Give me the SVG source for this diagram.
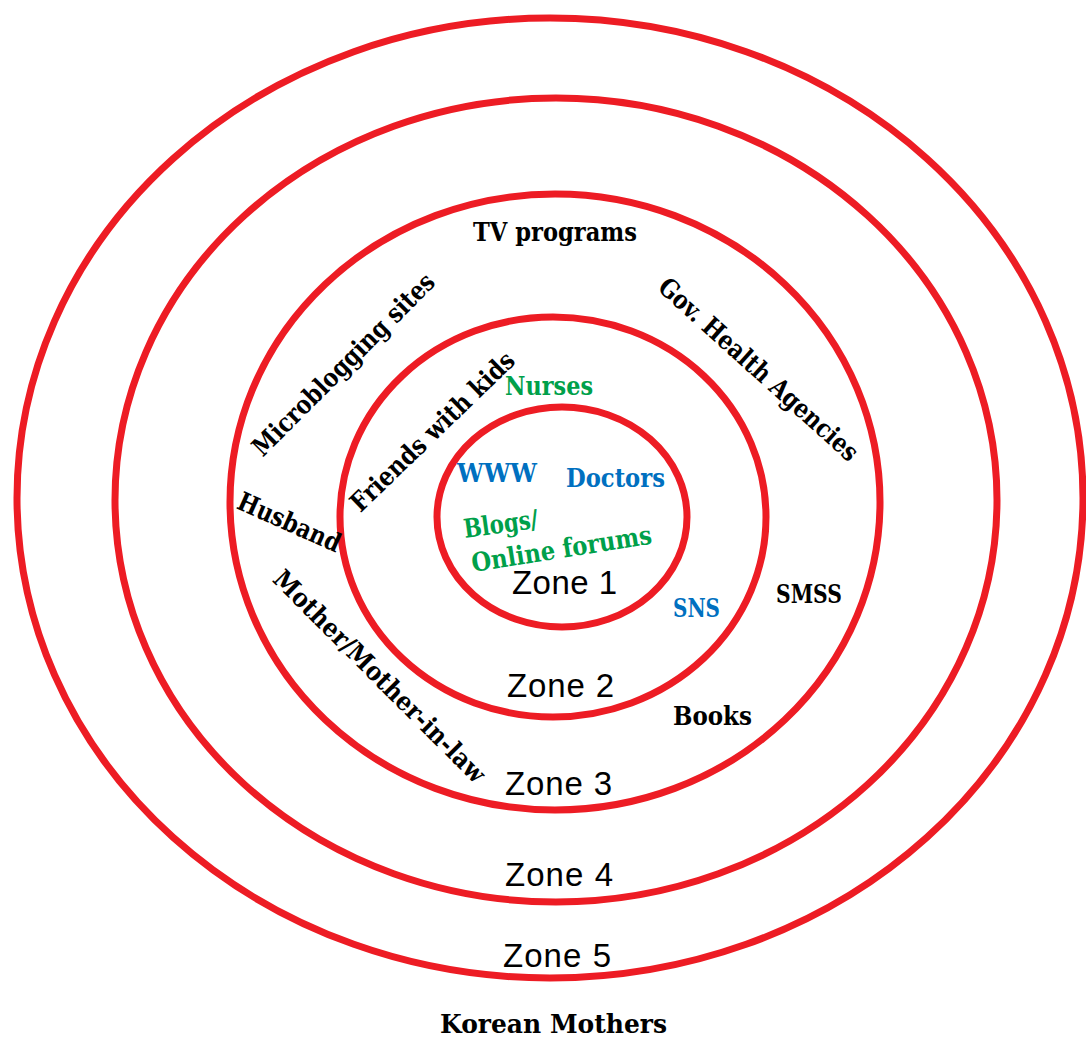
<svg xmlns="http://www.w3.org/2000/svg" width="1086" height="1040" viewBox="0 0 1086 1040">
  <style>
    .ring { fill: none; stroke: #ED1C24; stroke-width: 7; }
    .zone { font-family: "Liberation Sans", Arial, sans-serif; font-size: 33px; fill: #000; }
    .lbl { font-family: "DejaVu Serif", "Liberation Serif", serif; font-weight: bold; font-size: 26px; }
    .black { fill: #000; }
    .blue { fill: #0070C0; }
    .green { fill: #00A04A; }
  </style>
  <rect width="1086" height="1040" fill="#fff"/>

  <!-- concentric zones, outermost first -->
  <g id="zone5">
    <ellipse class="ring" cx="550" cy="498" rx="533" ry="480"/>
    <text class="zone" x="503" y="967" textLength="108">Zone 5</text>
  </g>
  <g id="zone4">
    <ellipse class="ring" cx="556" cy="500" rx="441" ry="402"/>
    <text class="zone" x="505" y="886" textLength="108">Zone 4</text>
  </g>
  <g id="zone3">
    <ellipse class="ring" cx="555" cy="502" rx="325" ry="308"/>
    <text class="zone" x="505" y="795" textLength="107">Zone 3</text>
  </g>
  <g id="zone2">
    <ellipse class="ring" cx="553" cy="517" rx="213" ry="200"/>
    <text class="zone" x="507" y="697" textLength="107">Zone 2</text>
  </g>
  <g id="zone1">
    <ellipse class="ring" cx="562" cy="517" rx="125" ry="110"/>
    <text class="zone" x="512" y="594" textLength="105">Zone 1</text>
  </g>

  <!-- information sources -->
  <g id="tv-programs"><text class="lbl black" x="473" y="241" textLength="164" lengthAdjust="spacingAndGlyphs">TV programs</text></g>
  <g id="microblogging"><text class="lbl black" transform="translate(344,365) rotate(-45)" x="0" y="8" text-anchor="middle" textLength="246" lengthAdjust="spacingAndGlyphs">Microblogging sites</text></g>
  <g id="gov-health"><text class="lbl black" transform="translate(758,370) rotate(42)" x="0" y="8" text-anchor="middle" textLength="259" lengthAdjust="spacingAndGlyphs">Gov. Health Agencies</text></g>
  <g id="friends"><text class="lbl black" transform="translate(433,432) rotate(-44)" x="0" y="8" text-anchor="middle" textLength="217" lengthAdjust="spacingAndGlyphs">Friends with kids</text></g>
  <g id="husband"><text class="lbl black" transform="translate(289,523) rotate(24)" x="0" y="8" text-anchor="middle" textLength="110" lengthAdjust="spacingAndGlyphs">Husband</text></g>
  <g id="mother"><text class="lbl black" transform="translate(379,677) rotate(45)" x="0" y="8" text-anchor="middle" textLength="288" lengthAdjust="spacingAndGlyphs">Mother/Mother-in-law</text></g>
  <g id="nurses"><text class="lbl green" x="505" y="395" textLength="88" lengthAdjust="spacingAndGlyphs">Nurses</text></g>
  <g id="www"><text class="lbl blue" x="457" y="482" textLength="80" lengthAdjust="spacingAndGlyphs">WWW</text></g>
  <g id="doctors"><text class="lbl blue" x="566" y="487" textLength="99" lengthAdjust="spacingAndGlyphs">Doctors</text></g>
  <g id="blogs">
    <text class="lbl green" transform="rotate(-8,465,538)" x="465" y="538" textLength="75" lengthAdjust="spacingAndGlyphs">Blogs/</text>
    <text class="lbl green" transform="rotate(-9,473,572)" x="473" y="572" textLength="182" lengthAdjust="spacingAndGlyphs">Online forums</text>
  </g>
  <g id="sns"><text class="lbl blue" x="673" y="617" textLength="47" lengthAdjust="spacingAndGlyphs">SNS</text></g>
  <g id="smss"><text class="lbl black" x="776" y="603" textLength="66" lengthAdjust="spacingAndGlyphs">SMSS</text></g>
  <g id="books"><text class="lbl black" x="673" y="725" textLength="79" lengthAdjust="spacingAndGlyphs">Books</text></g>

  <g id="title"><text class="lbl black" x="440" y="1033" font-size="28" textLength="227" lengthAdjust="spacingAndGlyphs">Korean Mothers</text></g>
</svg>
